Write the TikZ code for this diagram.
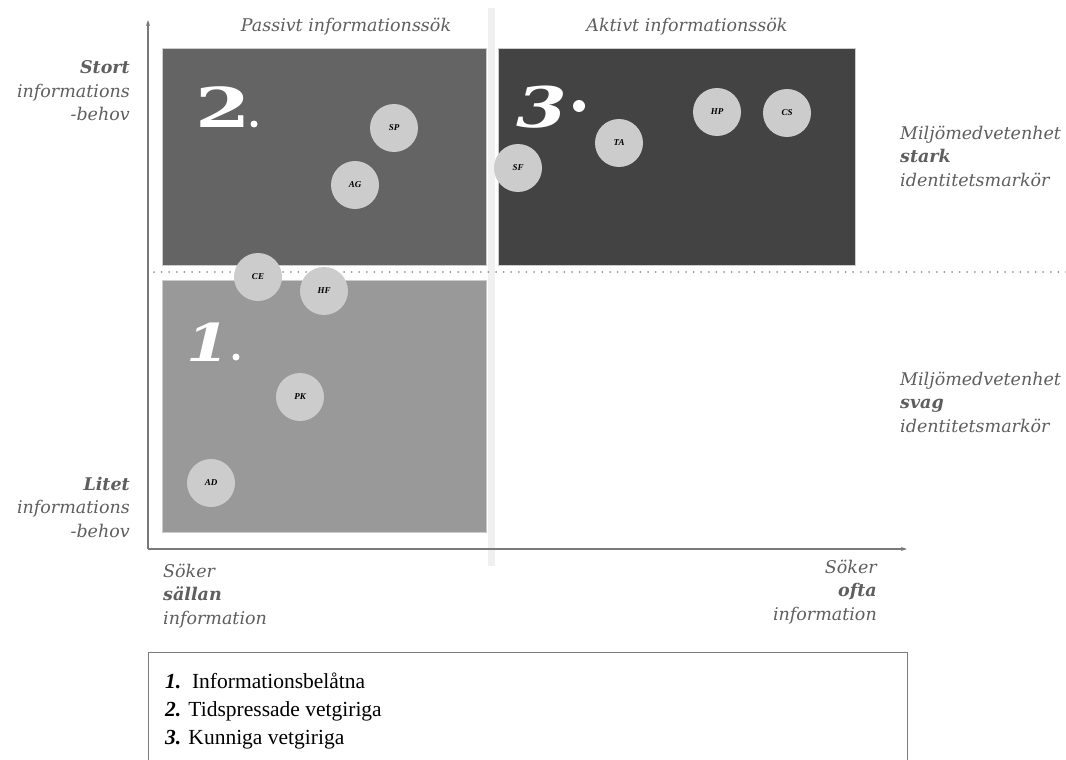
\documentclass[tikz,border=0pt]{standalone}
\usepackage{graphicx}
\usepackage{fontspec}
\setmainfont{DejaVu Serif}
\newfontfamily\legendfont{Liberation Serif}
\newfontfamily\tagfont{Liberation Serif}
\usetikzlibrary{arrows.meta}
\definecolor{qone}{HTML}{999999}
\definecolor{qtwo}{HTML}{646464}
\definecolor{qthree}{HTML}{434343}
\definecolor{dotgray}{HTML}{CCCCCC}
\definecolor{txtgray}{HTML}{5E5E5E}
\definecolor{axisgray}{HTML}{7A7A7A}
\definecolor{bandgray}{HTML}{F0F0F0}
\tikzset{
  person/.style={circle, fill=dotgray, minimum size=48pt, inner sep=0pt,
    font=\tagfont\fontsize{9}{9}\selectfont\bfseries\itshape, text=black},
  lbl/.style={font=\fontsize{17.5}{23.5}\selectfont\itshape, text=txtgray, inner sep=0pt},
  bignum/.style={text=white, inner sep=0pt, anchor=base west},
  numdot/.style={circle, fill=white, inner sep=0pt},
  axisline/.style={draw=axisgray, line width=1.2pt, -{Stealth[length=6pt,width=4pt]}},
  dotline/.style={draw=axisgray!80, line width=2pt, line cap=round, dash pattern=on 0pt off 7.6pt},
  quad/.style={draw=white!80!black, line width=0.6pt},
}
\begin{document}
\begin{tikzpicture}[x=1pt,y=-1pt]
\useasboundingbox (0,0) rectangle (1066,760);
\clip (0,0) rectangle (1066,760);
% separating band
\fill[bandgray] (487.5,8) rectangle (495,566);
% quadrants
\path[quad, fill=qtwo] (162,48) rectangle (486,265);
\path[quad, fill=qthree] (498,48) rectangle (855,265);
\path[quad, fill=qone] (162,280) rectangle (486,532);
% dotted divider
\coordinate (dl) at (154,272);
\coordinate (dr) at (1066,272);
\draw[dotline] (dl) -- (dr);
% axes
\coordinate (origin) at (148,549);
\coordinate (ytop) at (148,20);
\coordinate (xend) at (907,549);
\draw[axisline] (origin) -- (ytop);
\draw[axisline] (origin) -- (xend);
% headings
\node[lbl] (passive) at (346,27) {Passivt informationssök};
\node[lbl] (active) at (687,27) {Aktivt informationssök};
% left labels
\node[lbl, anchor=east, align=right] (stort) at (130,91) {\textbf{Stort}\\informations\\-behov};
\node[lbl, anchor=east, align=right] (litet) at (130,507) {\textbf{Litet}\\informations\\-behov};
% right labels
\node[lbl, anchor=west, align=left] (stark) at (900,156) {Miljömedvetenhet\\\textbf{stark}\\identitetsmarkör};
\node[lbl, anchor=west, align=left] (svag) at (900,402) {Miljömedvetenhet\\\textbf{svag}\\identitetsmarkör};
% bottom labels
\node[lbl, anchor=west, align=left] (sallan) at (163,596) {Söker\\\textbf{sällan}\\information};
\node[lbl, anchor=east, align=right] (ofta) at (877,592) {Söker\\\textbf{ofta}\\information};
% quadrant numbers
\node[bignum, font=\fontsize{55}{55}\selectfont\bfseries] (n2) at (195,128) {\scalebox{1.45}[1]{2}};
\node[numdot, minimum size=7pt] (d2) at (254,124) {};
\node[bignum, font=\fontsize{56}{56}\selectfont\bfseries\itshape] (n3) at (516,128) {\scalebox{1.3}[1]{3}};
\node[numdot, minimum size=12pt] (d3) at (579,106) {};
\node[bignum, font=\fontsize{52}{52}\selectfont\bfseries\itshape] (n1) at (186,361) {\scalebox{1.2}[1]{1}};
\node[numdot, minimum size=7pt] (d1) at (236,357) {};
% persons
\node[person] (sp) at (394,128) {SP};
\node[person] (ag) at (355,185) {AG};
\node[person] (ce) at (258,277) {CE};
\node[person] (hf) at (324,291) {HF};
\node[person] (pk) at (300,397) {PK};
\node[person] (ad) at (211,483) {AD};
\node[person] (sf) at (518,168) {SF};
\node[person] (ta) at (619,143) {TA};
\node[person] (hp) at (717,112) {HP};
\node[person] (cs) at (787,113) {CS};
% legend
\draw[draw=axisgray, line width=0.8pt] (148,652) rectangle (907,770);
\node[anchor=west, align=left, inner sep=0pt, text=black,
  font=\legendfont\fontsize{21.5}{28}\selectfont] (legend) at (165,711)
  {\textbf{\textit{1.}}\ \ Informationsbelåtna\\
   \textbf{\textit{2.}} Tidspressade vetgiriga\\
   \textbf{\textit{3.}} Kunniga vetgiriga};
\end{tikzpicture}
\end{document}
